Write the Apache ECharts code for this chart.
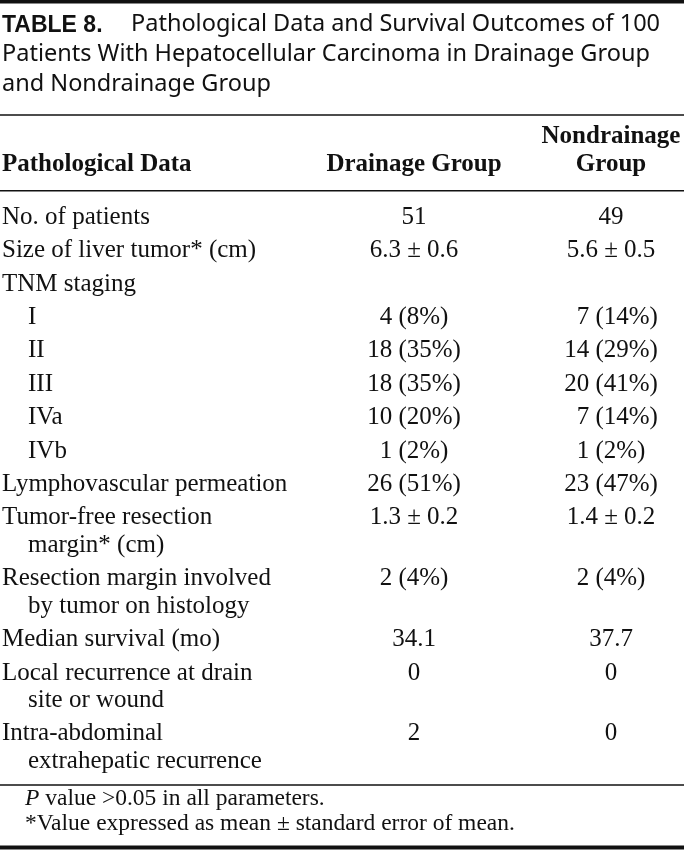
<!DOCTYPE html>
<html>
<head>
<meta charset="utf-8">
<script src="https://cdn.jsdelivr.net/npm/echarts@6/dist/echarts.min.js"></script>
<style>
html,body{margin:0;padding:0;background:#fff;}
#chart{width:684px;height:857px;}
</style>
</head>
<body>
<div id="chart"></div>
<script>
// ---- content ----
const tableNumber = "TABLE 8.";
const titleLines = [
  "Pathological Data and Survival Outcomes of 100",
  "Patients With Hepatocellular Carcinoma in Drainage Group",
  "and Nondrainage Group"
];
const columnHeaders = ["Pathological Data", "Drainage Group", "Nondrainage\nGroup"];
const rowLabels = [
  "No. of patients",
  "Size of liver tumor* (cm)",
  "TNM staging",
  "I",
  "II",
  "III",
  "IVa",
  "IVb",
  "Lymphovascular permeation",
  "Tumor-free resection\nmargin* (cm)",
  "Resection margin involved\nby tumor on histology",
  "Median survival (mo)",
  "Local recurrence at drain\nsite or wound",
  "Intra-abdominal\nextrahepatic recurrence"
];
const rowLevel = [0, 0, 0, 1, 1, 1, 1, 1, 0, 0, 0, 0, 0, 0];
const drainageGroup = ["51", "6.3 \u00b1 0.6", "", "4 (8%)", "18 (35%)", "18 (35%)", "10 (20%)", "1 (2%)", "26 (51%)", "1.3 \u00b1 0.2", "2 (4%)", "34.1", "0", "2"];
const nondrainageGroup = ["49", "5.6 \u00b1 0.5", "", "\u20077 (14%)", "14 (29%)", "20 (41%)", "\u20077 (14%)", "1 (2%)", "23 (47%)", "1.4 \u00b1 0.2", "2 (4%)", "37.7", "0", "0"];
const footnoteItalic = "P";
const footnote1 = " value >0.05 in all parameters.";
const footnote2 = "*Value expressed as mean \u00b1 standard error of mean.";

// ---- layout (styling) ----
const W = 684;
const SERIF = "'Liberation Serif', 'Times New Roman', serif";
const SANS = "'Noto Sans', 'Liberation Sans', Arial, sans-serif";
const SANSB = "'Liberation Sans', Arial, sans-serif";
const INK = "#111";
const bodySize = 25, titleSize = 23.5, noteSize = 23.5;
const K = 0.34; // middle-to-baseline factor (Liberation)
const K_NOTO = 0.36;
const layout = {
  titleBase: 33, titleStep: 30, titleX: 2, titleTextX: 131,
  headBase: 173, headLine: 27.5,
  firstRowBase: 225.7, rowStep: 33.4, lineStep: 27.5,
  leftX: 2, indent: 26, col1: 414, col2: 611,
  noteX: 25, noteBase: 807, noteStep: 25
};

function txt(x, base, text, size, family, opts) {
  opts = opts || {};
  const k = opts.k != null ? opts.k : K;
  return {
    type: 'text', x: x, y: base - k * size, silent: true,
    style: Object.assign({
      text: text, fill: INK, fontSize: size, fontFamily: family,
      fontWeight: opts.bold ? 'bold' : 'normal',
      align: opts.align || 'left', verticalAlign: 'middle'
    }, opts.extra || {})
  };
}
function hline(y, lw) {
  return { type: 'rect', silent: true, shape: { x: 0, y: y - lw / 2, width: W, height: lw }, style: { fill: INK } };
}

const els = [];
// rules
els.push(hline(1.8, 3.6));
els.push(hline(115, 1.4));
els.push(hline(190.8, 1.4));
els.push(hline(785, 1.4));
els.push(hline(847.5, 4.2));

// title
els.push(txt(layout.titleX, layout.titleBase, tableNumber, 23, SANSB, { bold: true }));
titleLines.forEach((t, i) => {
  const x = i === 0 ? layout.titleTextX : layout.titleX;
  els.push(txt(x, layout.titleBase + i * layout.titleStep, t, titleSize, SANS, { k: K_NOTO }));
});

// header
els.push(txt(layout.leftX, layout.headBase, columnHeaders[0], bodySize, SERIF, { bold: true }));
els.push(txt(layout.col1, layout.headBase, columnHeaders[1], bodySize, SERIF, { bold: true, align: 'center' }));
const h3 = columnHeaders[2].split("\n");
h3.forEach((t, i) => {
  els.push(txt(layout.col2, layout.headBase - (h3.length - 1 - i) * layout.headLine, t, bodySize, SERIF, { bold: true, align: 'center' }));
});

// body rows
let base = layout.firstRowBase;
rowLabels.forEach((lab, r) => {
  const lines = lab.split("\n");
  const x0 = layout.leftX + rowLevel[r] * layout.indent;
  lines.forEach((ln, i) => {
    const x = i === 0 ? x0 : x0 + layout.indent;
    els.push(txt(x, base + i * layout.lineStep, ln, bodySize, SERIF));
  });
  if (drainageGroup[r]) els.push(txt(layout.col1, base, drainageGroup[r], bodySize, SERIF, { align: 'center' }));
  if (nondrainageGroup[r]) els.push(txt(layout.col2, base, nondrainageGroup[r], bodySize, SERIF, { align: 'center' }));
  base += layout.rowStep + (lines.length - 1) * layout.lineStep;
});

// footnotes
els.push(txt(layout.noteX, layout.noteBase, '{i|' + footnoteItalic + '}' + footnote1, noteSize, SERIF, {
  extra: { rich: { i: { fontStyle: 'italic', fontSize: noteSize, fontFamily: SERIF, fill: INK } } }
}));
els.push(txt(layout.noteX, layout.noteBase + layout.noteStep, footnote2, noteSize, SERIF));

const chart = echarts.init(document.getElementById('chart'), null, { renderer: 'canvas' });
chart.setOption({
  backgroundColor: '#ffffff',
  animation: false,
  graphic: { elements: els }
});
</script>
</body>
</html>
